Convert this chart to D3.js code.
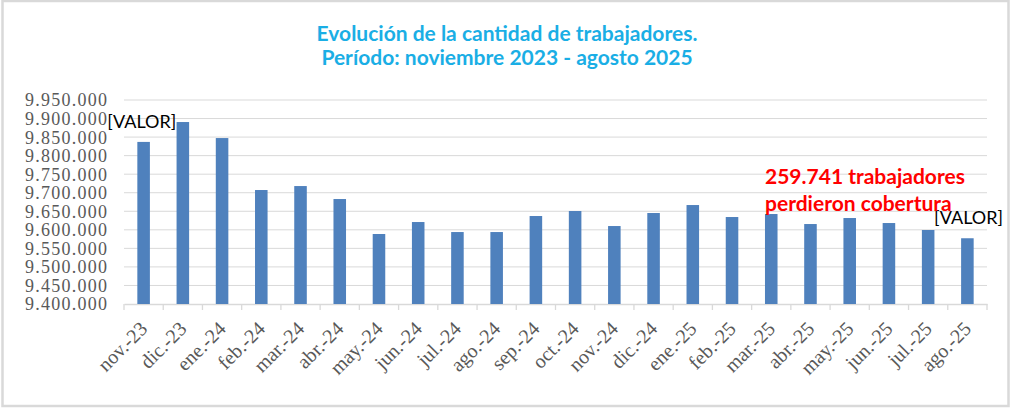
<!DOCTYPE html>
<html>
<head>
<meta charset="utf-8">
<script src="https://cdn.jsdelivr.net/npm/d3@7"></script>
<style>
  body { margin: 0; background: #fff; }
</style>
</head>
<body>
<script>
// datos
const meses = ['nov.-23','dic.-23','ene.-24','feb.-24','mar.-24','abr.-24','may.-24','jun.-24',
  'jul.-24','ago.-24','sep.-24','oct.-24','nov.-24','dic.-24','ene.-25','feb.-25',
  'mar.-25','abr.-25','may.-25','jun.-25','jul.-25','ago.-25'];
const trabajadores = [9837000, 9890600, 9847400, 9707300, 9718000, 9683000, 9588700, 9621000,
  9594000, 9594000, 9637200, 9650700, 9610200, 9645300, 9666800, 9634500,
  9642600, 9615600, 9631800, 9618300, 9599500, 9577259];
const yTicks = [9400000, 9450000, 9500000, 9550000, 9600000, 9650000, 9700000, 9750000,
  9800000, 9850000, 9900000, 9950000];
const titulo = ['Evolución de la cantidad de trabajadores.', 'Período: noviembre 2023 - agosto 2025'];
const nota = ['259.741 trabajadores', 'perdieron cobertura'];

const W = 1012, H = 411;
const m = { left: 124, right: 1012 - 987, top: 100, bottom: 411 - 304 };

const svg = d3.select('body').append('svg')
  .attr('width', W)
  .attr('height', H);

// marco
svg.append('rect')
  .attr('x', 2.5).attr('y', 1).attr('width', 1006).attr('height', 405)
  .attr('fill', 'none').attr('stroke', '#d9d9d9').attr('stroke-width', 2.5);

const x = d3.scaleBand().domain(meses).range([m.left, W - m.right]).paddingInner(0.68).paddingOuter(0.34);
const y = d3.scaleLinear().domain([9400000, 9950000]).range([H - m.bottom, m.top]);

const fmt = d => d3.format(',')(d).replace(/,/g, '.');

// grilla
svg.append('g').selectAll('line')
  .data(yTicks.slice(1))
  .enter().append('line')
  .attr('x1', m.left).attr('x2', W - m.right)
  .attr('y1', d => y(d)).attr('y2', d => y(d))
  .attr('stroke', '#d9d9d9').attr('stroke-width', 1);

// eje y
const yAxis = svg.append('g')
  .attr('transform', `translate(${m.left - 17},0)`)
  .call(d3.axisLeft(y).tickValues(yTicks).tickFormat(fmt).tickSize(0).tickPadding(0));
yAxis.select('.domain').remove();
yAxis.selectAll('text')
  .attr('font-family', '"Liberation Serif", serif')
  .attr('font-size', 18)
  .attr('textLength', 82)
  .attr('fill', '#595959')
  .attr('dy', '0.33em');

// eje x
const xAxis = svg.append('g')
  .attr('transform', `translate(0,${H - m.bottom})`)
  .call(d3.axisBottom(x).tickSize(0).tickFormat(''));
xAxis.select('.domain').attr('stroke', '#d9d9d9').attr('stroke-width', 1.3);
const paso = x.step();
xAxis.selectAll('.sep')
  .data(d3.range(meses.length + 1))
  .enter().append('line')
  .attr('x1', i => m.left + i * paso).attr('x2', i => m.left + i * paso)
  .attr('y1', 0).attr('y2', 6)
  .attr('stroke', '#d9d9d9').attr('stroke-width', 1.3);

svg.append('g').selectAll('text')
  .data(meses)
  .enter().append('text')
  .attr('transform', d => `translate(${x(d) + x.bandwidth() / 2 + 5},${H - m.bottom + 26}) rotate(-45)`)
  .attr('text-anchor', 'end')
  .attr('font-family', '"Liberation Serif", serif')
  .attr('font-size', 20)
  .attr('fill', '#595959')
  .text(d => d);

// barras
svg.append('g').selectAll('rect')
  .data(trabajadores)
  .enter().append('rect')
  .attr('x', (d, i) => x(meses[i]))
  .attr('y', d => y(d))
  .attr('width', x.bandwidth())
  .attr('height', d => y(9400000) - y(d))
  .attr('fill', '#4f81bd');

// etiquetas [VALOR]
const ult = trabajadores.length - 1;
svg.append('text')
  .attr('x', x(meses[0]) - 30).attr('y', y(trabajadores[0]) - 14)
  .attr('font-family', 'Lato, sans-serif').attr('font-size', 18).attr('fill', '#000')
  .text('[VALOR]');
svg.append('text')
  .attr('x', x(meses[ult]) - 27).attr('y', y(trabajadores[ult]) - 14)
  .attr('font-family', 'Lato, sans-serif').attr('font-size', 18).attr('fill', '#000')
  .text('[VALOR]');

// titulo
svg.append('g').selectAll('text')
  .data(titulo)
  .enter().append('text')
  .attr('x', 507).attr('y', (d, i) => 41 + i * 24)
  .attr('text-anchor', 'middle')
  .attr('font-family', 'Lato, sans-serif').attr('font-weight', 'bold').attr('font-size', 21)
  .attr('fill', '#1aaee5')
  .text(d => d);

// nota
svg.append('g').selectAll('text')
  .data(nota)
  .enter().append('text')
  .attr('x', 765).attr('y', (d, i) => 184 + i * 27)
  .attr('font-family', 'Lato, sans-serif').attr('font-weight', 'bold').attr('font-size', 21)
  .attr('fill', '#ff0000')
  .text(d => d);
</script>
</body>
</html>
